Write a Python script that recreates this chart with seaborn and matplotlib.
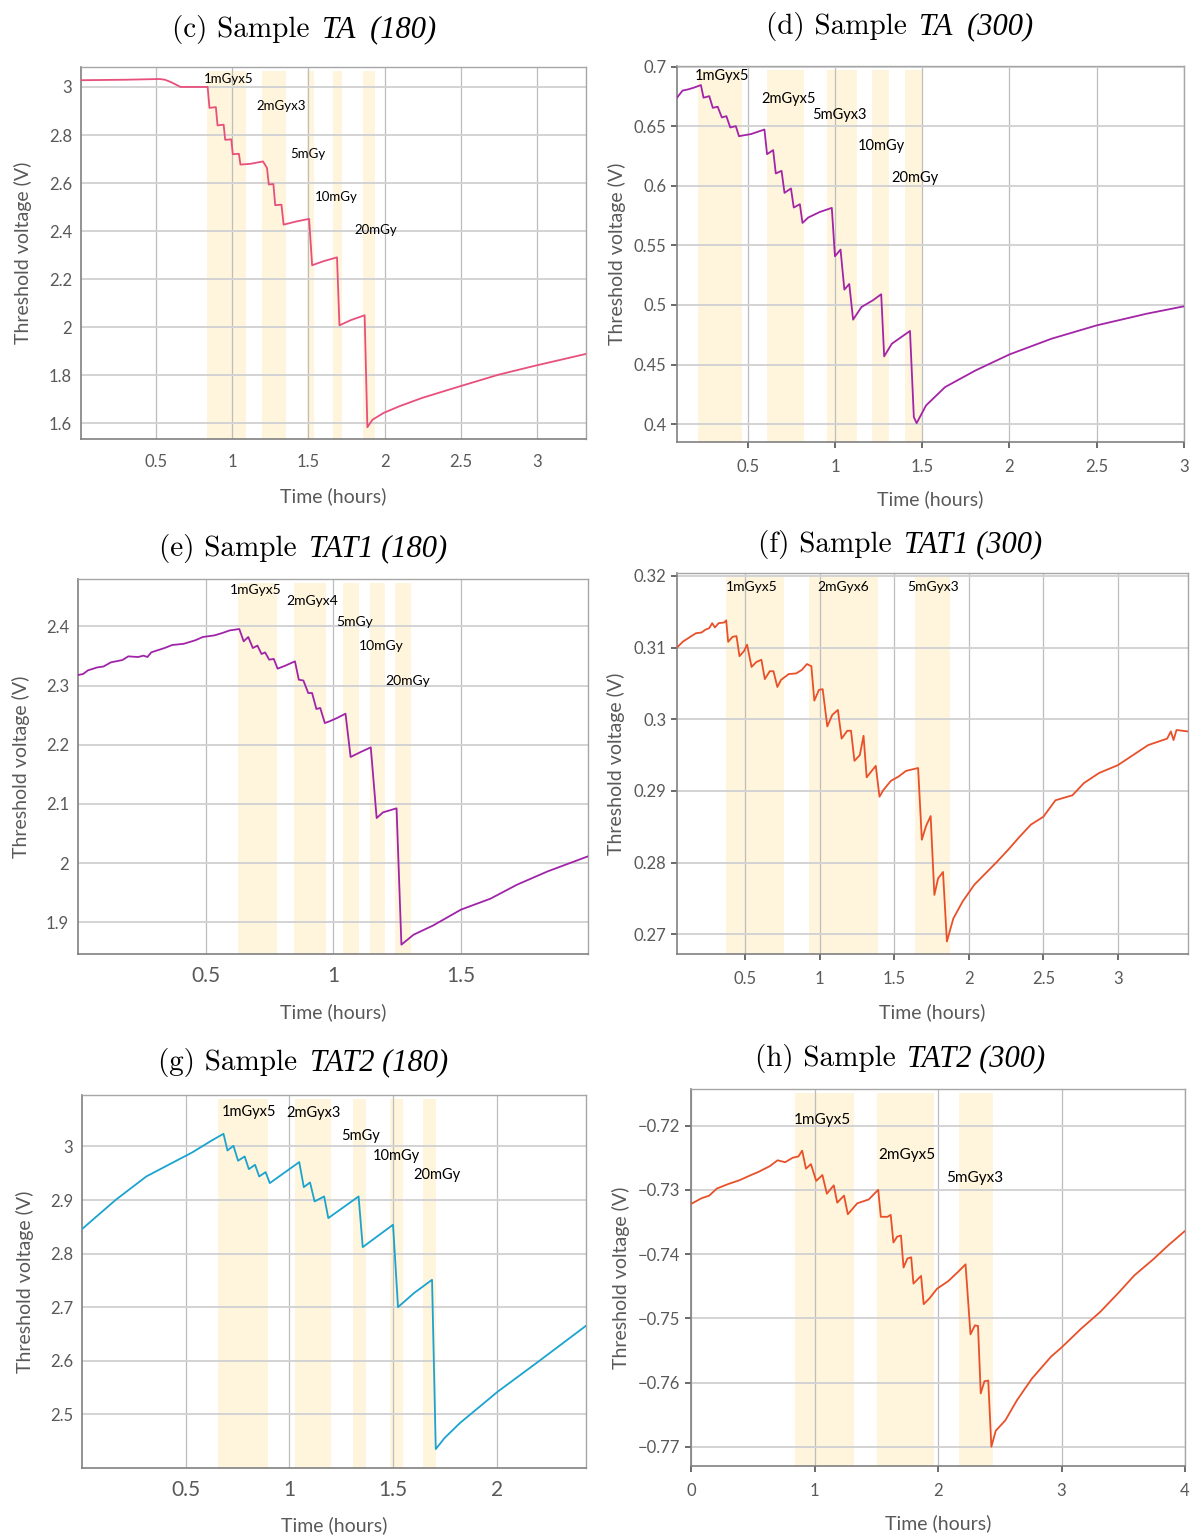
import matplotlib
matplotlib.use("Agg")
import matplotlib.pyplot as plt
import seaborn as sns
from matplotlib.ticker import FixedLocator, FuncFormatter

# ---------------- data ----------------
# (c) Sample TA (180)
c_time = [0.01, 0.30, 0.525, 0.56, 0.60, 0.663, 0.84, 0.852, 0.894, 0.905, 0.945, 0.955, 0.995, 1.005, 1.045, 1.055,
          1.12, 1.203, 1.229, 1.241, 1.271, 1.283, 1.324, 1.338, 1.42, 1.505, 1.525, 1.60, 1.688, 1.704, 1.78, 1.869,
          1.887, 1.92, 1.995, 2.1, 2.246, 2.497, 2.749, 3.0, 3.32]
c_vth = [3.028, 3.030, 3.033, 3.030, 3.02, 3.0, 3.0, 2.913, 2.916, 2.84, 2.843, 2.78, 2.782, 2.72, 2.722, 2.677,
         2.68, 2.69, 2.663, 2.594, 2.596, 2.508, 2.51, 2.427, 2.44, 2.451, 2.258, 2.275, 2.291, 2.008, 2.03, 2.05,
         1.584, 1.615, 1.644, 1.672, 1.706, 1.755, 1.803, 1.842, 1.889]
c_bands = [(0.839, 1.09), (1.196, 1.354), (1.492, 1.535), (1.663, 1.718), (1.859, 1.94)]
c_labels = ["1mGyx5", "2mGyx3", "5mGy", "10mGy", "20mGy"]
c_label_x = [0.814, 1.16, 1.384, 1.543, 1.80]
c_label_y = [3.035, 2.92, 2.721, 2.542, 2.406]

# (d) Sample TA (300)
d_time = [0.095, 0.127, 0.16, 0.195, 0.232, 0.247, 0.28, 0.30, 0.328, 0.352, 0.378, 0.40, 0.432, 0.45, 0.52, 0.596,
          0.611, 0.646, 0.661, 0.694, 0.711, 0.748, 0.764, 0.799, 0.814, 0.847, 0.912, 0.982, 1.0, 1.032, 1.054,
          1.082, 1.104, 1.152, 1.217, 1.265, 1.282, 1.326, 1.43, 1.452, 1.468, 1.522, 1.631, 1.806, 2.0, 2.241, 2.5,
          2.787, 3.0]
d_vth = [0.674, 0.680, 0.681, 0.6826, 0.6846, 0.674, 0.6753, 0.6655, 0.6664, 0.6574, 0.6585, 0.649, 0.6501, 0.6417,
         0.6435, 0.6473, 0.6266, 0.630, 0.6104, 0.6126, 0.5941, 0.5978, 0.5818, 0.5846, 0.5689, 0.5734, 0.578, 0.5815,
         0.5409, 0.5465, 0.5129, 0.5176, 0.4877, 0.4983, 0.5039, 0.509, 0.4569, 0.4675, 0.4782, 0.4059, 0.4008, 0.4157,
         0.4311, 0.4451, 0.4585, 0.4717, 0.4829, 0.4927, 0.4989]
d_bands = [(0.214, 0.465), (0.611, 0.825), (0.956, 1.126), (1.213, 1.309), (1.402, 1.496)]
d_labels = ["1mGyx5", "2mGyx5", "5mGyx3", "10mGy", "20mGy"]
d_label_x = [0.197, 0.581, 0.868, 1.13, 1.322]
d_label_y = [0.6922, 0.6725, 0.6594, 0.6336, 0.6067]

# (e) Sample TAT1 (180)
e_time = [0.0, 0.02, 0.039, 0.076, 0.10, 0.129, 0.174, 0.197, 0.235, 0.257, 0.272, 0.287, 0.339, 0.369, 0.414, 0.459,
          0.489, 0.535, 0.565, 0.595, 0.632, 0.649, 0.667, 0.685, 0.703, 0.719, 0.733, 0.749, 0.767, 0.782, 0.812,
          0.85, 0.865, 0.883, 0.902, 0.917, 0.934, 0.949, 0.967, 0.985, 1.015, 1.048, 1.068, 1.105, 1.147, 1.17,
          1.195, 1.248, 1.267, 1.315, 1.39, 1.5, 1.616, 1.72, 1.84, 1.998]
e_vth = [2.3178, 2.3195, 2.3257, 2.3307, 2.3322, 2.3392, 2.3431, 2.3493, 2.3482, 2.3505, 2.3482, 2.3561, 2.3634,
         2.3685, 2.3705, 2.3764, 2.382, 2.3848, 2.3887, 2.3932, 2.3955, 2.3747, 2.382, 2.3634, 2.3675, 2.3533, 2.356,
         2.3437, 2.345, 2.3285, 2.3336, 2.3409, 2.3099, 2.3085, 2.2874, 2.2874, 2.2604, 2.2621, 2.2367, 2.2395,
         2.2452, 2.2525, 2.1793, 2.1872, 2.1956, 2.0762, 2.0858, 2.0926, 1.8623, 1.8792, 1.8944, 1.9214, 1.94,
         1.9636, 1.9861, 2.0115]
e_bands = [(0.628, 0.779), (0.847, 0.973), (1.04, 1.1), (1.143, 1.203), (1.243, 1.305)]
e_labels = ["1mGyx5", "2mGyx4", "5mGy", "10mGy", "20mGy"]
e_label_x = [0.595, 0.815, 1.01, 1.102, 1.203]
e_label_y = [2.462, 2.443, 2.407, 2.367, 2.308]

# (f) Sample TAT1 (300)
f_time = [0.043, 0.081, 0.132, 0.17, 0.208, 0.234, 0.259, 0.279, 0.297, 0.322, 0.36, 0.373, 0.386, 0.416, 0.442,
          0.462, 0.492, 0.513, 0.543, 0.576, 0.609, 0.632, 0.665, 0.69, 0.716, 0.741, 0.792, 0.843, 0.881, 0.914,
          0.944, 0.964, 0.995, 1.02, 1.051, 1.084, 1.122, 1.147, 1.185, 1.21, 1.233, 1.269, 1.294, 1.315, 1.345,
          1.376, 1.401, 1.426, 1.477, 1.528, 1.579, 1.66, 1.685, 1.713, 1.744, 1.769, 1.794, 1.827, 1.853, 1.896,
          1.959, 2.036, 2.112, 2.188, 2.264, 2.34, 2.416, 2.5, 2.581, 2.695, 2.772, 2.873, 3.0, 3.101, 3.203, 3.33,
          3.355, 3.373, 3.393, 3.47]
f_vth = [0.31, 0.3108, 0.3115, 0.312, 0.3121, 0.3125, 0.3127, 0.3134, 0.3128, 0.3134, 0.3135, 0.3138, 0.3108, 0.3115,
         0.3116, 0.3088, 0.3095, 0.3104, 0.3073, 0.308, 0.3083, 0.3056, 0.3067, 0.3067, 0.3045, 0.3055, 0.3063,
         0.3064, 0.3069, 0.3077, 0.3074, 0.3026, 0.3041, 0.3042, 0.299, 0.3006, 0.3013, 0.2973, 0.2984, 0.2984,
         0.2942, 0.295, 0.2977, 0.2919, 0.2927, 0.2935, 0.2892, 0.2901, 0.2914, 0.292, 0.2928, 0.2932, 0.2832,
         0.2851, 0.2865, 0.2755, 0.2778, 0.2787, 0.269, 0.2722, 0.2746, 0.2769, 0.2785, 0.2801, 0.2818, 0.2836,
         0.2853, 0.2864, 0.2887, 0.2894, 0.2911, 0.2925, 0.2936, 0.295, 0.2964, 0.2973, 0.2983, 0.2971, 0.2985,
         0.2983]
f_bands = [(0.373, 0.759), (0.931, 1.393), (1.637, 1.871)]
f_labels = ["1mGyx5", "2mGyx6", "5mGyx3"]
f_label_x = [0.368, 0.982, 1.586]
f_label_y = [0.3185, 0.3185, 0.3185]

# (g) Sample TAT2 (180)
g_time = [0.0, 0.163, 0.31, 0.402, 0.531, 0.623, 0.682, 0.701, 0.73, 0.752, 0.784, 0.804, 0.834, 0.854, 0.885,
          0.905, 1.047, 1.069, 1.099, 1.121, 1.167, 1.187, 1.333, 1.353, 1.499, 1.523, 1.6, 1.687, 1.705, 1.747,
          1.821, 2.005, 2.19, 2.429]
g_vth = [2.8458, 2.9005, 2.944, 2.9627, 2.9888, 3.0106, 3.0236, 2.9925, 3.0012, 2.9733, 2.9813, 2.9577, 2.9658,
         2.944, 2.9521, 2.9316, 2.9708, 2.9241, 2.9328, 2.8974, 2.9067, 2.8663, 2.9067, 2.8122, 2.8539, 2.7002,
         2.7264, 2.7512, 2.4353, 2.4558, 2.4838, 2.5429, 2.5958, 2.6654]
g_bands = [(0.655, 0.896), (1.025, 1.198), (1.305, 1.37), (1.486, 1.549), (1.642, 1.707)]
g_labels = ["1mGyx5", "2mGyx3", "5mGy", "10mGy", "20mGy"]
g_label_x = [0.673, 0.985, 1.25, 1.401, 1.596]
g_label_y = [3.065, 3.063, 3.02, 2.983, 2.946]

# (h) Sample TAT2 (300)
h_time = [0.0, 0.086, 0.148, 0.209, 0.301, 0.393, 0.486, 0.547, 0.639, 0.701, 0.762, 0.824, 0.87, 0.9, 0.931, 0.971,
          1.014, 1.064, 1.1, 1.156, 1.184, 1.239, 1.27, 1.346, 1.439, 1.516, 1.537, 1.592, 1.617, 1.639, 1.669, 1.7,
          1.721, 1.752, 1.783, 1.801, 1.863, 1.884, 1.931, 1.992, 2.084, 2.161, 2.223, 2.263, 2.299, 2.324, 2.346,
          2.376, 2.407, 2.432, 2.468, 2.545, 2.638, 2.76, 2.914, 3.003, 3.16, 3.314, 3.468, 3.591, 3.744, 3.867, 4.0]
h_vth = [-0.7322, -0.7313, -0.7309, -0.7298, -0.7291, -0.7285, -0.7277, -0.7272, -0.7263, -0.7254, -0.7257, -0.725,
         -0.7248, -0.7239, -0.7267, -0.726, -0.7286, -0.7277, -0.7306, -0.7293, -0.732, -0.7309, -0.7338, -0.7321,
         -0.7315, -0.73, -0.7342, -0.7342, -0.7339, -0.7382, -0.7373, -0.7371, -0.7421, -0.7407, -0.7405, -0.7446,
         -0.7434, -0.7478, -0.7469, -0.7454, -0.7442, -0.7428, -0.7416, -0.7525, -0.7511, -0.7512, -0.7617,
         -0.7598, -0.7597, -0.77, -0.7675, -0.7659, -0.7628, -0.7594, -0.756, -0.7545, -0.7516, -0.749, -0.7459,
         -0.7433, -0.7408, -0.7386, -0.7364]
h_bands = [(0.845, 1.316), (1.503, 1.97), (2.17, 2.447)]
h_labels = ["1mGyx5", "2mGyx5", "5mGyx3"]
h_label_x = [0.83, 1.516, 2.069]
h_label_y = [-0.7191, -0.7246, -0.7281]

# tick values
c_xticks = [0.5, 1, 1.5, 2, 2.5, 3]
c_yticks = [1.6, 1.8, 2.0, 2.2, 2.4, 2.6, 2.8, 3.0]
d_xticks = [0.5, 1, 1.5, 2, 2.5, 3]
d_yticks = [0.4, 0.45, 0.5, 0.55, 0.6, 0.65, 0.7]
e_xticks = [0.5, 1, 1.5]
e_yticks = [1.9, 2.0, 2.1, 2.2, 2.3, 2.4]
f_xticks = [0.5, 1, 1.5, 2, 2.5, 3]
f_yticks = [0.27, 0.28, 0.29, 0.30, 0.31, 0.32]
g_xticks = [0.5, 1, 1.5, 2]
g_yticks = [2.5, 2.6, 2.7, 2.8, 2.9, 3.0]
h_xticks = [0, 1, 2, 3, 4]
h_yticks = [-0.77, -0.76, -0.75, -0.74, -0.73, -0.72]

# ---------------- style ----------------
sns.set_theme(style="white")
plt.rcParams["font.family"] = ["Lato", "DejaVu Sans"]

W, H = 1190, 1538
fig = plt.figure(figsize=(W / 100, H / 100), dpi=100)
fig.patch.set_facecolor("white")

TICK_C = "#595959"
BAND_C = "#FFF4DC"

panels = [
    dict(box=(81, 586, 67, 439), t=c_time, v=c_vth, bands=c_bands, labels=c_labels, lx=c_label_x, ly=c_label_y,
         color="#E8507C", xlim=(0.01, 3.32), ylim=(1.535, 3.083), xt=c_xticks, yt=c_yticks,
         title=("(c) Sample", "TA  (180)"), tpos=(304, 30), ann=9.5, xts=12, ticks=False,
         ylab_px=23, xlab_px=497),
    dict(box=(677, 1184, 66, 442), t=d_time, v=d_vth, bands=d_bands, labels=d_labels, lx=d_label_x, ly=d_label_y,
         color="#A324A6", xlim=(0.095, 3.0), ylim=(0.385, 0.7006), xt=d_xticks, yt=d_yticks,
         title=("(d) Sample", "TA  (300)"), tpos=(900, 27), ann=10.5, xts=12, ticks=True,
         ylab_px=617, xlab_px=500),
    dict(box=(78, 588, 579, 954), t=e_time, v=e_vth, bands=e_bands, labels=e_labels, lx=e_label_x, ly=e_label_y,
         color="#A024A8", xlim=(0.0, 1.998), ylim=(1.8465, 2.48), xt=e_xticks, yt=e_yticks,
         title=("(e) Sample", "TAT1 (180)"), tpos=(303, 549), ann=10, xts=15, ticks=False,
         ylab_px=21, xlab_px=1013),
    dict(box=(677, 1188, 573, 954), t=f_time, v=f_vth, bands=f_bands, labels=f_labels, lx=f_label_x, ly=f_label_y,
         color="#E8502A", xlim=(0.043, 3.47), ylim=(0.26726, 0.3204), xt=f_xticks, yt=f_yticks,
         title=("(f) Sample", "TAT1 (300)"), tpos=(900, 545), ann=10, xts=12, ticks=True,
         ylab_px=616, xlab_px=1013),
    dict(box=(82, 586, 1095, 1468), t=g_time, v=g_vth, bands=g_bands, labels=g_labels, lx=g_label_x, ly=g_label_y,
         color="#1BA3CF", xlim=(0.0, 2.429), ylim=(2.40, 3.096), xt=g_xticks, yt=g_yticks,
         title=("(g) Sample", "TAT2 (180)"), tpos=(303, 1063), ann=10.5, xts=15, ticks=False,
         ylab_px=25, xlab_px=1526),
    dict(box=(691, 1185, 1089, 1466), t=h_time, v=h_vth, bands=h_bands, labels=h_labels, lx=h_label_x, ly=h_label_y,
         color="#E8502A", xlim=(0.0, 4.0), ylim=(-0.773, -0.7143), xt=h_xticks, yt=h_yticks,
         title=("(h) Sample", "TAT2 (300)"), tpos=(900, 1059), ann=11, xts=12, ticks=True,
         ylab_px=621, xlab_px=1524),
]


def fmt(v, pos):
    s = f"{v:g}"
    return s.replace("-", "\u2212")


title_parts = []
for p in panels:
    l, r, t, b = p["box"]
    ax = fig.add_axes([l / W, 1 - b / H, (r - l) / W, (b - t) / H])
    ax.set_facecolor("white")
    ax.set_axisbelow("line")
    for (s, e) in p["bands"]:
        ax.axvspan(s, e, ymin=0.0, ymax=0.99, color=BAND_C, lw=0, zorder=0.5)
    sns.lineplot(x=p["t"], y=p["v"], ax=ax, color=p["color"], linewidth=1.3, sort=False,
                 estimator=None, legend=False, zorder=3)
    ax.set_xlim(*p["xlim"])
    ax.set_ylim(*p["ylim"])
    ax.xaxis.set_major_locator(FixedLocator(p["xt"]))
    ax.yaxis.set_major_locator(FixedLocator(p["yt"]))
    ax.xaxis.set_major_formatter(FuncFormatter(fmt))
    ax.yaxis.set_major_formatter(FuncFormatter(fmt))
    ax.grid(axis="x", color="#bdbdbd", lw=0.9)
    ax.grid(axis="y", color="#d3d3d3", lw=1.4)
    for side in ["left", "bottom"]:
        ax.spines[side].set_color("#808080")
        ax.spines[side].set_linewidth(1.2)
    for side in ["top", "right"]:
        ax.spines[side].set_color("#a6a6a6")
        ax.spines[side].set_linewidth(1.0)
    tl = 4 if p["ticks"] else 0
    ax.tick_params(axis="x", labelsize=p["xts"], colors=TICK_C, length=tl, pad=11 - tl * 0.7 if p["xts"] < 14 else 9,
                   bottom=True)
    ax.tick_params(axis="y", labelsize=12, colors=TICK_C, length=tl, pad=6.5 - tl * 0.7, left=True)
    ax.set_xlabel("Time (hours)", fontsize=14, color=TICK_C)
    ax.set_ylabel("Threshold voltage (V)", fontsize=14, color=TICK_C)
    # x label: coordinate is the text top; y label: coordinate is the text's right side
    ax.xaxis.set_label_coords(0.5, -(p["xlab_px"] - 10 - b) / (b - t))
    ax.yaxis.set_label_coords((p["ylab_px"] + 9 - l) / (r - l), 0.5)
    for txt, x, y in zip(p["labels"], p["lx"], p["ly"]):
        ax.text(x, y, txt, fontsize=p["ann"], color="black", ha="left", va="center", zorder=4)
    # title: roman part (Computer Modern) + italic part
    yb = 1 - (p["tpos"][1] + 7) / H
    t1 = fig.text(0, yb, p["title"][0], fontsize=21, family="cmr10", ha="left", va="baseline", color="black")
    t2 = fig.text(0, yb, p["title"][1], fontsize=22, family="Liberation Serif", style="italic",
                  ha="left", va="baseline", color="black")
    title_parts.append((p["tpos"][0], t1, t2))

fig.canvas.draw()
renderer = fig.canvas.get_renderer()
gap = 12
for cx, t1, t2 in title_parts:
    w1 = t1.get_window_extent(renderer).width
    w2 = t2.get_window_extent(renderer).width
    x0 = cx - (w1 + gap + w2) / 2
    t1.set_x(x0 / W)
    t2.set_x((x0 + w1 + gap) / W)

fig.savefig("out.png", dpi=100, facecolor="white")
